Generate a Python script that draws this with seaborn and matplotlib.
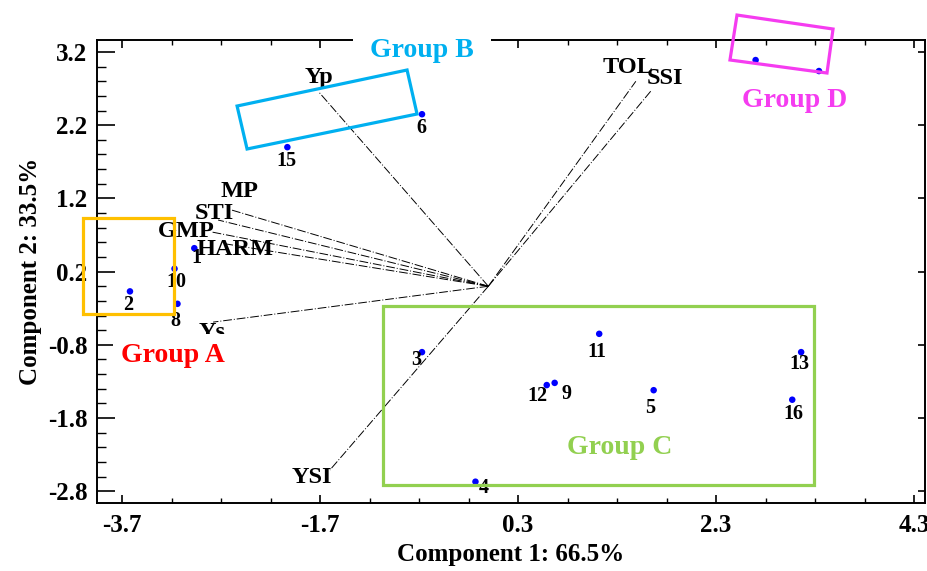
import numpy as np
import pandas as pd
import seaborn as sns
import matplotlib.pyplot as plt
from matplotlib.patches import Polygon, Rectangle

sns.set_theme(style="white")
plt.rcParams['font.family'] = ['Liberation Serif', 'DejaVu Serif']
plt.rcParams['font.weight'] = 'bold'
plt.rcParams['axes.unicode_minus'] = False
plt.rcParams['text.color'] = 'black'
plt.rcParams['axes.labelcolor'] = 'black'
plt.rcParams['xtick.color'] = 'black'
plt.rcParams['ytick.color'] = 'black'

# genotype scores (component 1, component 2)
genotypes = ["1", "2", "3", "4", "5", "6", "7", "8", "9", "10", "11", "12", "13", "14", "15", "16"]
pc1 = [-2.97, -3.62, -0.67, -0.13, 1.67, -0.67, 2.70, -3.14, 0.67, -3.17, 1.12, 0.59, 3.16, 3.34, -2.03, 3.07]
pc2 = [0.52, -0.07, -0.90, -2.67, -1.42, 2.35, 3.09, -0.24, -1.32, 0.24, -0.65, -1.35, -0.90, 2.94, 1.90, -1.55]
# label offsets in pixels (dx, dy)
label_dx = [2, -2, -6, 8, -3, -1, 0, -2, 12, 2, -2, -9, -2, 0, -1, 1]
label_dy = [-10, -14, -8, -6, -18, -14, 0, -17, -11, -13, -18, -11, -12, 0, -14, -14]
hidden_labels = ["7", "14"]

# index vectors
indices = ["Yp", "TOL", "SSI", "MP", "STI", "GMP", "HARM", "Ys", "YSI"]
vec_x = [-1.71, 1.49, 1.65, -2.59, -2.73, -2.79, -2.66, -2.78, -1.60]
vec_y = [2.65, 2.80, 2.68, 1.04, 0.905, 0.74, 0.58, -0.49, -2.51]
vec_dx = [0, -8, 13, 8, -4, -26, 10, -1, -18]
vec_dy = [15, 14, 12, 19, 7, 1, -6, -10, -8]

fig = plt.figure(figsize=(9.27, 5.71), dpi=100)
ax = fig.add_axes([97 / 927, 68 / 571, 828 / 927, 463 / 571])

px = 0.72  # points per pixel

for name, x, y, dx, dy in zip(indices, vec_x, vec_y, vec_dx, vec_dy):
    ax.plot([0, x], [0, y], color="black", lw=0.7, linestyle=(0, (9, 2, 1, 2)), zorder=2)
    ax.annotate(name, (x, y), xytext=(dx * px, dy * px), textcoords="offset points",
                ha="center", va="center", fontsize=17.5, fontweight="bold", color="black", zorder=3)

df = pd.DataFrame({"pc1": pc1, "pc2": pc2, "genotype": genotypes})
sns.scatterplot(data=df, x="pc1", y="pc2", color="blue", s=22, edgecolor="none", ax=ax, zorder=4)
for g, x, y, dx, dy in zip(genotypes, pc1, pc2, label_dx, label_dy):
    if g in hidden_labels:
        continue
    ax.annotate(g, (x, y), xytext=(dx * px, dy * px), textcoords="offset points",
                ha="center", va="center", fontsize=14.5, fontweight="bold", color="black", zorder=4)

# group labels (white backing covers the spine under Group B)
gkw = dict(ha="center", va="center", fontsize=20, fontweight="bold", clip_on=False)
ax.text(-3.185, -0.94, "Group A", color="#FF0000", zorder=6,
        bbox=dict(facecolor="white", edgecolor="none", pad=6), **gkw)
ax.text(-0.67, 3.227, "Group B", color="#00B0F0", zorder=6,
        bbox=dict(facecolor="white", edgecolor="none", pad=12), **gkw)
ax.text(1.33, -2.196, "Group C", color="#92D050", zorder=6, **gkw)
ax.text(3.098, 2.544, "Group D", color="#F53CF0", zorder=6, **gkw)

# group boxes
ax.add_patch(Rectangle((-4.094, -0.379), 0.919, 1.311, fill=False, ec="#FFC000", lw=2.3,
                       clip_on=False, zorder=7))
ax.add_patch(Rectangle((-1.064, -2.715), 4.354, 2.445, fill=False, ec="#92D050", lw=2.3,
                       clip_on=False, zorder=7))
ax.add_patch(Polygon([(-2.538, 2.462), (-0.821, 2.954), (-0.720, 2.353), (-2.437, 1.875)],
                     closed=True, fill=False, ec="#00B0F0", lw=2.3, clip_on=False, zorder=7))
ax.add_patch(Polygon([(2.512, 3.705), (3.482, 3.514), (3.421, 2.913), (2.441, 3.091)],
                     closed=True, fill=False, ec="#F53CF0", lw=2.3, clip_on=False, zorder=7))

ax.set_xlim(-3.953, 4.411)
ax.set_ylim(-2.961, 3.364)
ax.set_xticks([-3.7, -1.7, 0.3, 2.3, 4.3])
ax.set_xticks(np.arange(-3.7, 4.4, 0.5), minor=True)
ax.set_yticks([3.2, 2.2, 1.2, 0.2, -0.8, -1.8, -2.8])
ax.set_yticks(np.arange(-2.8, 3.3, 0.2), minor=True)
ax.set_xticklabels(["-3.7", "-1.7", "0.3", "2.3", "4.3"])
ax.set_yticklabels(["3.2", "2.2", "1.2", "0.2", "-0.8", "-1.8", "-2.8"])

for s in ax.spines.values():
    s.set_color("black")
    s.set_linewidth(1.4)
ax.tick_params(axis="x", which="major", direction="in", length=6, width=1.2, top=True,
               bottom=True, labelsize=18, pad=8, colors="black")
ax.tick_params(axis="x", which="minor", direction="in", length=3.5, width=1.0, top=True, bottom=True)
ax.tick_params(axis="y", which="major", direction="in", length=13, width=1.2, left=True,
               right=True, labelsize=18, pad=7, colors="black")
ax.tick_params(axis="y", which="minor", direction="in", length=6.5, width=1.0, left=True, right=False)
for t in ax.yaxis.get_major_ticks():
    t.tick2line.set_markersize(5)

ax.set_xlabel("Component 1: 66.5%", fontsize=18, fontweight="bold", labelpad=4)
ax.set_ylabel("Component 2: 33.5%", fontsize=18, fontweight="bold", labelpad=4)

plt.savefig("out.png", dpi=100)
